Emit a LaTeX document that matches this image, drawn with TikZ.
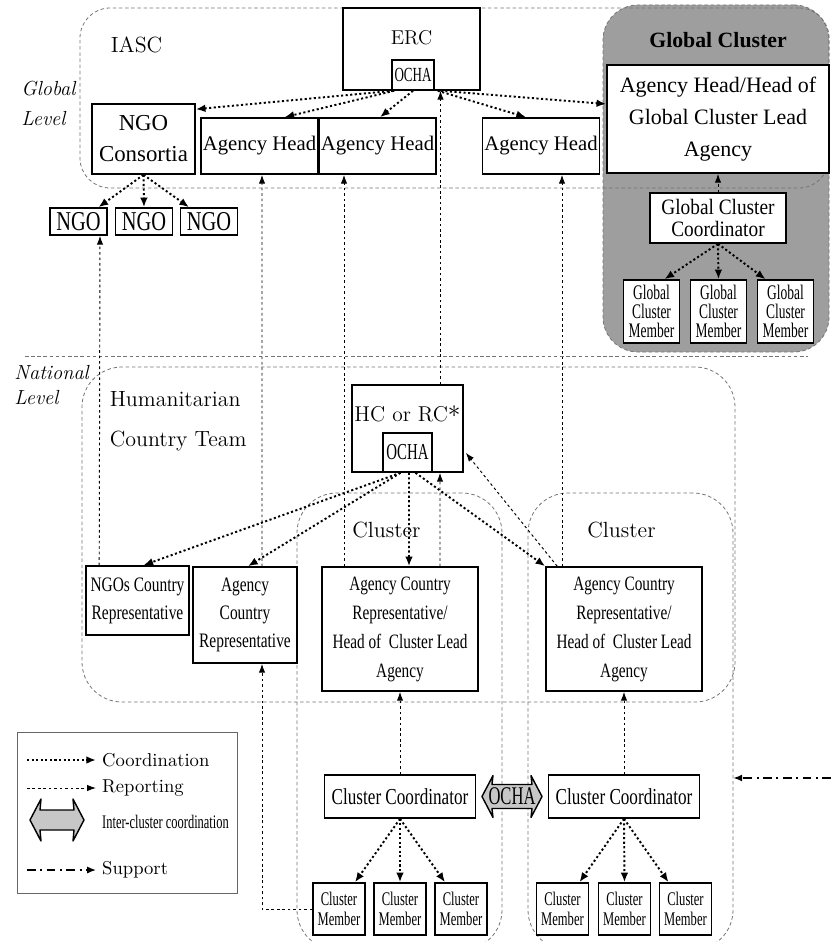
\documentclass[tikz,border=0pt]{standalone}
\usepackage{fontspec}
\newfontfamily\tms{Liberation Serif}
\newfontfamily\tmsa[FakeStretch=0.88]{Liberation Serif}
\newfontfamily\tmsb[FakeStretch=0.75]{Liberation Serif}
\newfontfamily\tmsc[FakeStretch=0.65]{Liberation Serif}
\usetikzlibrary{positioning}
\usetikzlibrary{calc}
\usetikzlibrary{arrows.meta}

\newcommand{\fatdblarrow}[4]{%
\draw [fatarr] ($(#1) + (-#2, 0)$) -- ++(11, -#3-#4) -- ++(-1, #4) -- ++(2*#2-20, 0)
  -- ++(-1, -#4) -- ++(11, #3+#4) -- ++(-11, #3+#4) -- ++(1, -#4)
  -- ++(-2*#2+20, 0) -- ++(1, #4) -- cycle;}

\begin{document}
\begin{tikzpicture}[x=0.2mm, y=-0.2mm,
  box/.style={draw, line width=0.9pt, fill=white, align=center, inner sep=1pt},
  region/.style={draw=black!55, line width=0.45pt, dash pattern=on 2pt off 1.5pt, rounded corners=8mm},
  divider/.style={draw=black!55, line width=0.45pt, dash pattern=on 2pt off 1.5pt},
  coord/.style={line width=1.1pt, dash pattern=on 1.2pt off 1.4pt, -{Latex[length=5.5pt,width=4.4pt]}},
  report/.style={line width=0.55pt, dash pattern=on 1.5pt off 1.6pt, -{Latex[length=5pt,width=3.6pt]}},
  support/.style={line width=0.8pt, dash pattern=on 5pt off 2.5pt on 1.2pt off 2.5pt, -{Latex[length=5pt,width=4pt]}},
  fatarr/.style={draw, line width=0.8pt, fill=black!22, line join=round},
  lmtxt/.style={font=\fontsize{12.5}{22.8}\selectfont},
  lvltxt/.style={font=\itshape\fontsize{11.6}{14}\selectfont, align=left, anchor=west, inner sep=0pt},
  lgtxt/.style={font=\fontsize{10.6}{12}\selectfont, anchor=west},
  ahtxt/.style={font=\tms\fontsize{11.8}{16}\selectfont},
  repstxt/.style={font=\tmsb\fontsize{11.7}{16}\selectfont},
  memtxt/.style={font=\tmsc\fontsize{11}{11.4}\selectfont},
  ochatxt/.style={font=\tmsc\fontsize{11.4}{12}\selectfont}
]

\pgfmathsetmacro{\DX}{17}
\pgfmathsetmacro{\DY}{30}

\useasboundingbox (0,0) rectangle (831,942);
\clip (0,0) rectangle (831,942);

\node (gcl) [region, fill=black!38, rounded corners=7mm, minimum width=45.2mm, minimum height=69.4mm] at (716,178.5) {};
\node (iasc) [region, rounded corners=6mm, minimum width=149.8mm, minimum height=36mm] at (454.5,98) {};
\draw [divider] (25,356) -- (808,356);
\node (hct) [region, minimum width=130.6mm, minimum height=67mm] at (408.5,534.5) {};
\node (clus1) [region, minimum width=41mm, minimum height=91.4mm] at (399.5,721.5) {};
\node (clus2) [region, minimum width=41mm, minimum height=91.4mm] at (630.5,721.5) {};

\node (iasctxt) [lmtxt] at ($(iasc.north west) + (57, 37)$) {IASC};
\node (gcltxt) [font=\tms\bfseries\fontsize{12.4}{14}\selectfont] at ($(gcl.north) + (2, 35)$) {Global Cluster};
\node (globlvl) [lvltxt, font=\itshape\fontsize{11.6}{17}\selectfont] at (21,103) {Global\\Level};
\node (natlvl) [lvltxt] at (14,385) {National\\Level};
\node (hcttxt) [lmtxt, align=left, anchor=west] at ($(hct.north west) + (22, 55)$) {Humanitarian\\Country Team};
\node (clus1txt) [lmtxt] at ($(clus1.north) + (-13, 37)$) {Cluster};
\node (clus2txt) [lmtxt] at ($(clus2.north) + (-9, 37)$) {Cluster};

\node (erc) [box, minimum width=27.4mm, minimum height=16.4mm] at (411.5,49) {};
\node (erctxt) [font=\fontsize{11.4}{13}\selectfont] at ($(erc.north) + (0, \DY)$) {ERC};
\node (ocha1) [box, ochatxt, minimum width=8.4mm, minimum height=6mm] at (413,75) {OCHA};

\node (ngocons) [box, font=\tms\fontsize{13}{17.6}\selectfont, minimum width=20.6mm, minimum height=14mm] at (143.5,139) {NGO\\Consortia};
\node (ah1) [box, ahtxt, minimum width=22.6mm, minimum height=11.2mm] at (259.5,146) {Agency Head};
\node (ah2) [box, ahtxt, minimum width=22.6mm, minimum height=11.2mm] at (377.5,146) {Agency Head};
\node (ah3) [box, ahtxt, minimum width=22.4mm, minimum height=11.2mm] at (541,146) {Agency Head};

\node (gclead) [box, font=\tms\fontsize{12.5}{18.2}\selectfont, minimum width=44.4mm, minimum height=21.6mm] at (718,119) {Agency Head/Head of\\Global Cluster Lead\\Agency};
\node (gccoord) [box, font=\tmsa\fontsize{12.5}{13}\selectfont, minimum width=27.2mm, minimum height=10mm] at (718,218) {Global Cluster\\Coordinator};
\node (gcm1) [box, font=\tmsc\fontsize{11.8}{11}\selectfont, minimum width=11.2mm, minimum height=12.6mm] at (651.5,311.5) {Global\\Cluster\\Member};
\node (gcm2) [box, font=\tmsc\fontsize{11.8}{11}\selectfont, minimum width=11.2mm, minimum height=12.6mm] at (718.5,311.5) {Global\\Cluster\\Member};
\node (gcm3) [box, font=\tmsc\fontsize{11.8}{11}\selectfont, minimum width=11.2mm, minimum height=12.6mm] at (785.5,311.5) {Global\\Cluster\\Member};

\node (ngo1) [box, font=\tmsb\fontsize{15.5}{16}\selectfont, inner sep=0pt, minimum width=11.4mm, minimum height=5.4mm] at (78.5,221.5) {NGO};
\node (ngo2) [box, font=\tmsb\fontsize{15.5}{16}\selectfont, inner sep=0pt, minimum width=11.4mm, minimum height=5.4mm] at (144,221.5) {NGO};
\node (ngo3) [box, font=\tmsb\fontsize{15.5}{16}\selectfont, inner sep=0pt, minimum width=11.4mm, minimum height=5.4mm] at (209,221.5) {NGO};

\node (hc) [box, minimum width=22.2mm, minimum height=17.4mm] at (407.5,428.5) {};
\node (hctxt) [font=\fontsize{12.2}{14}\selectfont] at ($(hc.north) + (0, \DY)$) {HC or RC\raisebox{0.45ex}{\fontsize{15}{15}\selectfont$\ast$}};
\node (hcocha) [box, font=\tmsc\fontsize{13}{14}\selectfont, minimum width=9.8mm, minimum height=7.8mm] at (407.5,452.5) {OCHA};

\node (ngocr) [box, repstxt, minimum width=20.6mm, minimum height=13.8mm] at (137.5,600.5) {NGOs Country\\Representative};
\node (acr) [box, repstxt, minimum width=20.8mm, minimum height=19.2mm] at (245,615) {Agency\\Country\\Representative};
\node (cl1) [box, font=\tmsb\fontsize{11.6}{16.5}\selectfont, minimum width=31.2mm, minimum height=24.8mm] at (400,629) {Agency Country\\Representative/\\Head of~ Cluster Lead\\Agency};
\node (cl2) [box, font=\tmsb\fontsize{11.6}{16.5}\selectfont, minimum width=31.2mm, minimum height=24.8mm] at (624,629) {Agency Country\\Representative/\\Head of~ Cluster Lead\\Agency};

\node (cc1) [box, font=\tmsb\fontsize{13}{14}\selectfont, minimum width=30.2mm, minimum height=8.6mm] at (400,796.5) {Cluster Coordinator};
\node (cc2) [box, font=\tmsb\fontsize{13}{14}\selectfont, minimum width=30.2mm, minimum height=8.6mm] at (624,796.5) {Cluster Coordinator};
\coordinate (ocharrowc) at (512,796.5);
\fatdblarrow{ocharrowc}{30}{12}{9}
\node (ocharrow) [font=\tmsc\fontsize{14.5}{15}\selectfont, inner sep=0pt] at (ocharrowc) {OCHA};

\node (cm1) [box, memtxt, minimum width=10.4mm, minimum height=10.4mm] at (339,909) {Cluster\\Member};
\node (cm2) [box, memtxt, minimum width=10.4mm, minimum height=10.4mm] at (400,909) {Cluster\\Member};
\node (cm3) [box, memtxt, minimum width=10.4mm, minimum height=10.4mm] at (461,909) {Cluster\\Member};
\node (cm4) [box, memtxt, minimum width=10.4mm, minimum height=10.4mm] at (562.5,909) {Cluster\\Member};
\node (cm5) [box, memtxt, minimum width=10.4mm, minimum height=10.4mm] at (624.5,909) {Cluster\\Member};
\node (cm6) [box, memtxt, minimum width=10.4mm, minimum height=10.4mm] at (685.5,909) {Cluster\\Member};

\node (legend) [draw=black!60, line width=0.5pt, minimum width=44mm, minimum height=32.2mm] at (127,812.5) {};
\node (lgcoord) [lgtxt] at (96,760) {Coordination};
\node (lgrep) [lgtxt] at (96,788) {Reporting};
\coordinate (lgfatc) at (57,820);
\fatdblarrow{lgfatc}{27}{10}{11}
\node (lginter) [lgtxt, font=\tmsc\fontsize{10.9}{12}\selectfont] at (96,822) {Inter-cluster coordination};
\node (lgsup) [lgtxt] at (96,870) {Support};
\coordinate (lgc0) at (27,760);
\coordinate (lgr0) at (27,788);
\coordinate (lgs0) at (27,870);
\coordinate (supsrc) at (831,778);

\draw [coord] (lgc0) -- (lgcoord.west);
\draw [report] (lgr0) -- (lgrep.west);
\draw [support] (lgs0) -- (lgsup.west);
\draw [support] (supsrc) -- (supsrc -| clus2.east);

\draw [coord] ($(ocha1.south west) + (2, 0)$) -- ($(ngocons.north east) + (0, 6)$);
\draw [coord] ($(ocha1.south west) + (3, 0)$) -- ($(ah1.north) + (25, 0)$);
\draw [coord] (ocha1.south) -- ($(ah2.north) + (2.5, 0)$);
\draw [coord] ($(ocha1.south east) + (3, 0)$) -- ($(ah3.north) + (-15, 0)$);
\draw [coord] ($(ocha1.south east) + (6, 0)$) -- ($(gclead.west) + (0, -15)$);

\draw [coord] (ngocons.south) -- ($(ngo1.north) + (20, 0)$);
\draw [coord] (ngocons.south) -- (ngo2.north);
\draw [coord] (ngocons.south) -- ($(ngo3.north) + (-20, 0)$);

\draw [coord] (gccoord.south) -- ($(gcm1.north) + (13, 0)$);
\draw [coord] (gccoord.south) -- (gcm2.north);
\draw [coord] (gccoord.south) -- ($(gcm3.north) + (-20, 0)$);

\draw [coord] ($(hcocha.south) + (-7, 0)$) -- ($(ngocr.north) + (6, 0)$);
\draw [coord] ($(hcocha.south) + (-7, 0)$) -- ($(acr.north) + (3, 0)$);
\draw [coord] ($(hcocha.south) + (1.5, 0)$) -- ($(cl1.north) + (9, 0)$);
\draw [coord] ($(hcocha.south) + (8, 0)$) -- (cl2.north west);

\draw [coord] (cc1.south) -- ($(cm1.north) + (16, 0)$);
\draw [coord] (cc1.south) -- (cm2.north);
\draw [coord] (cc1.south) -- ($(cm3.north) + (-16, 0)$);
\draw [coord] (cc2.south) -- ($(cm4.north) + (17, 0)$);
\draw [coord] (cc2.south) -- (cm5.north);
\draw [coord] (cc2.south) -- ($(cm6.north) + (-17, 0)$);

\draw [report] ($(ngocr.north west) + (14, 0)$) -- ($(ngo1.south) + (21.5, 0)$);
\draw [report] ($(acr.north) + (\DX, 0)$) -- ($(ah1.south) + (2.5, 0)$);
\draw [report] ($(cl1.north) + (-56, 0)$) -- ($(ah2.south) + (-33.5, 0)$);
\draw [report] ($(hc.north) + (33, 0)$) -- ($(erc.south) + (29, 0)$);
\draw [report] ($(cl2.north) + (-62, 0)$) -- ($(ah3.south) + (21, 0)$);
\draw [report] ($(cl1.north) + (40, 0)$) -- ($(hc.south) + (32.5, 0)$);
\draw [report] ($(cl2.north west) + (12, 0)$) -- ($(hc.south east) + (2, -20)$);
\draw [report] (cc1.north) -- (cl1.south);
\draw [report] (cc2.north) -- (cl2.south);
\draw [report] (gccoord.north) -- (gclead.south);
\draw [report] (cm1.west) -| ($(acr.south) + (\DX, 0)$);

\end{tikzpicture}
\end{document}
